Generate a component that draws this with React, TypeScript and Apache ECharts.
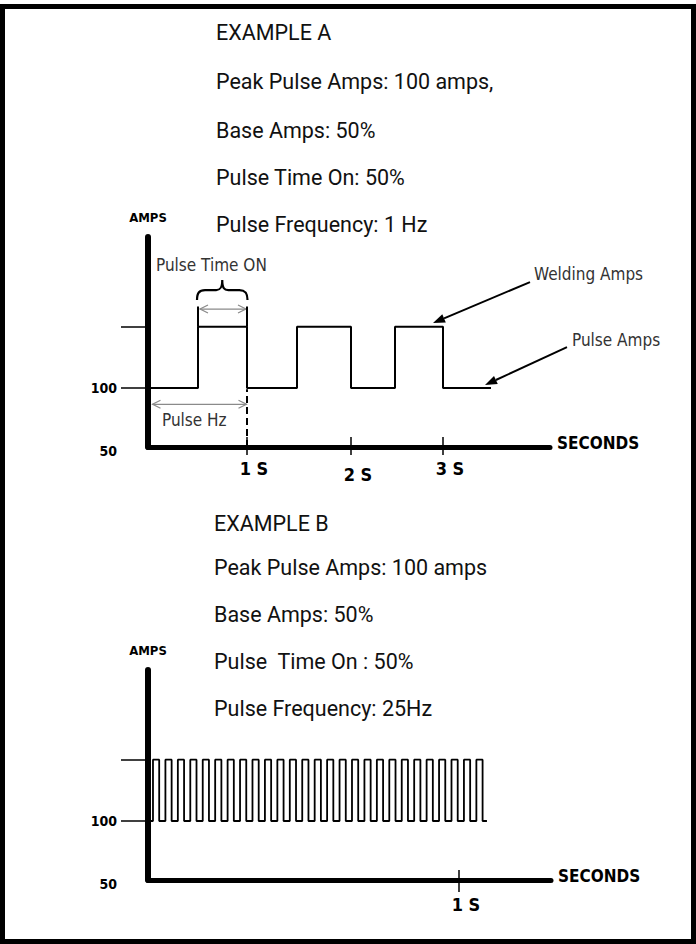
import React, { useEffect, useRef } from "react";
import * as echarts from "echarts";

// ---------------- DATA ----------------
const exampleALines = [
  "EXAMPLE A",
  "Peak Pulse Amps: 100 amps,",
  "Base Amps: 50%",
  "Pulse Time On: 50%",
  "Pulse Frequency: 1 Hz",
];
const exampleBLines = [
  "EXAMPLE B",
  "Peak Pulse Amps: 100 amps",
  "Base Amps: 50%",
  "Pulse  Time On : 50%",
  "Pulse Frequency: 25Hz",
];

const AMPS_MIN = 50;
const AMPS_MAX = 228;
const BASE_AMPS = 100;
const PEAK_AMPS = 152;
const ampTickValues = [100, 152];
const ampLabelValues = [50, 100];

// Example A (seconds)
const SECONDS_MAX_A = 4.02;
const pulseOnA = [0.5, 1.49, 2.47];
const pulseOffA = [0.99, 2.03, 2.95];
const waveEndA = 3.43;
const secondTicksA = [0.99, 2.03, 2.95];
const secondLabelsA = ["1 S", "2 S", "3 S"];

// Example B (seconds) – 25 Hz, 50% on
const SECONDS_MAX_B = 1.296;
const pulseOnB = [
  0.016, 0.056, 0.096, 0.136, 0.176, 0.216, 0.256, 0.296, 0.336, 0.376,
  0.416, 0.456, 0.496, 0.536, 0.576, 0.616, 0.656, 0.696, 0.736, 0.776,
  0.816, 0.856, 0.896, 0.936, 0.976, 1.016, 1.056,
];
const PULSE_WIDTH_B = 0.02;
const waveEndB = 1.09;
const secondTicksB = [1];
const secondLabelsB = ["1 S"];

// Example A annotations (data units: seconds, amps)
const pulseTimeOnArrow = { from: [0.52, 166.9], to: [0.98, 166.9] };
const pulseHzArrow = { from: [0.045, 86.2], to: [0.985, 86.2] };
const pulseTimeOnTicks = [
  { from: [0.5, 152], to: [0.5, 169] },
  { from: [0.99, 152], to: [0.99, 169] },
];
const pulseHzDashed = { from: [0.99, 50], to: [0.99, 99] };
const weldingLeader = { from: [3.82, 189.8], to: [2.85, 155] };
const pulseAmpsLeader = { from: [4.19, 134.7], to: [3.37, 102.5] };
const braceA = { from: 0.49, to: 0.995, low: 174.5, high: 191.5 };
const annotationTexts = [
  { text: "Pulse Time ON", at: [0.08, 204] },
  { text: "Pulse Hz", at: [0.14, 73.3] },
  { text: "Welding Amps", at: [3.86, 196.6] },
  { text: "Pulse Amps", at: [4.24, 140.7] },
];

// ---------------- STYLE / LAYOUT ----------------
const NARROW = "'DejaVu Sans Condensed', sans-serif";
const TITLE_FONT = "Roboto, 'DejaVu Sans Condensed', sans-serif";
const GRAY_TEXT = "#333";
const GRAY_LINE = "#8a8a8a";

echarts.graphic.registerShape(
  "brace",
  echarts.graphic.extendPath(
    "M0,20 C0,13 2,10 8,10 L19,10 C23,10 25,8 25,0 C25,8 27,10 31,10 L42,10 C48,10 50,13 50,20",
    {}
  )
);

function squareWave(ons: number[], offs: number[], end: number) {
  const pts: number[][] = [[0, BASE_AMPS]];
  ons.forEach((t, i) => {
    pts.push([t, BASE_AMPS], [t, PEAK_AMPS], [offs[i], PEAK_AMPS], [offs[i], BASE_AMPS]);
  });
  pts.push([end, BASE_AMPS]);
  return pts;
}

const boldNarrow = (size: number) => ({ fontFamily: NARROW, fontWeight: "bold", fontSize: size, color: "#000" });

function yAxisFor(gridIndex: number) {
  return {
    type: "value",
    gridIndex,
    min: AMPS_MIN,
    max: AMPS_MAX,
    name: "AMPS",
    nameLocation: "end",
    nameGap: 13,
    nameTextStyle: boldNarrow(13),
    axisLine: { show: true, onZero: false, lineStyle: { color: "#000", width: 6 } },
    axisTick: {
      show: true,
      customValues: ampTickValues,
      length: 27,
      lineStyle: { color: "#000", width: 1.5 },
    },
    axisLabel: {
      show: true,
      customValues: ampLabelValues,
      margin: 31,
      ...boldNarrow(14),
      formatter: (v: number) => (v === AMPS_MIN ? `{low|${v}}` : `{n|${v}}`),
      rich: {
        low: { ...boldNarrow(14), padding: [8, 0, 0, 0] },
        n: { ...boldNarrow(14) },
      },
    },
    splitLine: { show: false },
  };
}

function labelFor(ticks: number[], labels: string[]) {
  return (v: number) => {
    const i = ticks.findIndex((t) => Math.abs(t - v) < 1e-6);
    if (i < 0) return "";
    return i === 1 ? `{d|${labels[i]}}` : `{s|${labels[i]}}`;
  };
}

function xAxesFor(
  gridIndex: number,
  max: number,
  ticks: number[],
  labels: string[],
  outLen: number,
  inLen: number,
  labelMargin: number
) {
  return [
    {
      type: "value",
      gridIndex,
      min: 0,
      max,
      position: "bottom",
      name: "SECONDS",
      nameLocation: "end",
      nameGap: 7,
      nameTextStyle: {
        ...boldNarrow(17),
        verticalAlign: "bottom",
        lineHeight: 8,
      },
      axisLine: { show: true, onZero: false, lineStyle: { color: "#000", width: 5 } },
      axisTick: { show: true, customValues: ticks, length: outLen, lineStyle: { color: "#000", width: 1.5 } },
      axisLabel: {
        show: true,
        customValues: ticks,
        margin: labelMargin,
        formatter: labelFor(ticks, labels),
        ...boldNarrow(18),
        rich: {
          s: { ...boldNarrow(18), padding: [0, 0, 0, 14] },
          d: { ...boldNarrow(18), padding: [6, 0, 0, 14] },
        },
      },
      splitLine: { show: false },
    },
    {
      type: "value",
      gridIndex,
      min: 0,
      max,
      position: "bottom",
      axisLine: { show: false, onZero: false },
      axisTick: { show: true, inside: true, customValues: ticks, length: inLen, lineStyle: { color: "#000", width: 1.5 } },
      axisLabel: { show: false },
      splitLine: { show: false },
    },
  ];
}

function buildOption() {
  const offsB = pulseOnB.map((t) => t + PULSE_WIDTH_B);
  return {
    animation: false,
    backgroundColor: "#fff",
    grid: [
      { left: 148, top: 237, width: 402, height: 210 },
      { left: 148, top: 670, width: 403, height: 210 },
    ],
    xAxis: [
      ...xAxesFor(0, SECONDS_MAX_A, secondTicksA, secondLabelsA, 8, 10, 12),
      ...xAxesFor(1, SECONDS_MAX_B, secondTicksB, secondLabelsB, 12, 10, 15),
    ],
    yAxis: [yAxisFor(0), yAxisFor(1)],
    series: [
      {
        type: "line",
        xAxisIndex: 0,
        yAxisIndex: 0,
        data: squareWave(pulseOnA, pulseOffA, waveEndA),
        symbol: "none",
        lineStyle: { color: "#000", width: 2 },
        clip: false,
        z: 3,
      },
      {
        type: "line",
        xAxisIndex: 2,
        yAxisIndex: 1,
        data: squareWave(pulseOnB, offsB, waveEndB),
        symbol: "none",
        lineStyle: { color: "#000", width: 1.8 },
        clip: false,
        z: 3,
      },
    ],
  };
}

type Pt = number[];

function headPts(tip: Pt, from: Pt, len: number, half: number) {
  const dx = tip[0] - from[0];
  const dy = tip[1] - from[1];
  const L = Math.hypot(dx, dy) || 1;
  const ux = dx / L;
  const uy = dy / L;
  const bx = tip[0] - ux * len;
  const by = tip[1] - uy * len;
  return {
    base: [bx, by],
    left: [bx - uy * half, by + ux * half],
    right: [bx + uy * half, by - ux * half],
  };
}

function buildGraphics(chart: any) {
  const P = (p: Pt) => chart.convertToPixel({ gridIndex: 0 }, p) as Pt;
  const els: any[] = [];

  // outer frame
  els.push({
    type: "rect",
    shape: { x: 2.5, y: 6.5, width: 691, height: 935 },
    style: { fill: "none", stroke: "#000", lineWidth: 5 },
    z: 10,
  });

  const titleYA = [32, 81, 130, 177, 224];
  const titleYB = [523, 567, 614, 661, 708];
  exampleALines.forEach((t, i) =>
    els.push({
      type: "text",
      style: { text: t, x: 216, y: titleYA[i], fontFamily: TITLE_FONT, fontSize: 21.5, fill: "#111", verticalAlign: "middle" },
    })
  );
  exampleBLines.forEach((t, i) =>
    els.push({
      type: "text",
      style: { text: t, x: 214, y: titleYB[i], fontFamily: TITLE_FONT, fontSize: 21.5, fill: "#111", verticalAlign: "middle" },
    })
  );

  // dimension arrows (gray, open chevrons both ends)
  [pulseTimeOnArrow, pulseHzArrow].forEach((a) => {
    const p1 = P(a.from);
    const p2 = P(a.to);
    els.push({ type: "line", shape: { x1: p1[0], y1: p1[1], x2: p2[0], y2: p2[1] }, style: { stroke: GRAY_LINE, lineWidth: 1.2 } });
    [
      [p2, p1],
      [p1, p2],
    ].forEach(([tip, from]) => {
      const h = headPts(tip, from, 8, 4);
      els.push({ type: "polyline", shape: { points: [h.left, tip, h.right] }, style: { stroke: GRAY_LINE, lineWidth: 1.2, fill: "none" } });
    });
  });

  // end ticks of Pulse Time ON
  pulseTimeOnTicks.forEach((t) => {
    const p1 = P(t.from);
    const p2 = P(t.to);
    els.push({ type: "line", shape: { x1: p1[0], y1: p1[1], x2: p2[0], y2: p2[1] }, style: { stroke: "#000", lineWidth: 2 } });
  });

  // dashed line for Pulse Hz
  {
    const p1 = P(pulseHzDashed.from);
    const p2 = P(pulseHzDashed.to);
    els.push({ type: "line", shape: { x1: p1[0], y1: p1[1], x2: p2[0], y2: p2[1] }, style: { stroke: "#000", lineWidth: 2, lineDash: [7, 4] } });
  }

  // leader arrows (black, filled head)
  [weldingLeader, pulseAmpsLeader].forEach((a) => {
    const p1 = P(a.from);
    const tip = P(a.to);
    const h = headPts(tip, p1, 12, 4.5);
    els.push({ type: "line", shape: { x1: p1[0], y1: p1[1], x2: h.base[0], y2: h.base[1] }, style: { stroke: "#000", lineWidth: 2 } });
    els.push({ type: "polygon", shape: { points: [tip, h.left, h.right] }, style: { fill: "#000" } });
  });

  // brace
  {
    const l = P([braceA.from, braceA.high]);
    const r = P([braceA.to, braceA.low]);
    els.push({
      type: "brace",
      x: l[0],
      y: l[1],
      scaleX: (r[0] - l[0]) / 50,
      scaleY: (r[1] - l[1]) / 20,
      style: { fill: "none", stroke: "#000", lineWidth: 2.2 },
    });
  }

  // annotation texts
  annotationTexts.forEach((a) => {
    const p = P(a.at);
    els.push({
      type: "text",
      style: { text: a.text, x: p[0], y: p[1], fontFamily: NARROW, fontSize: 17, fill: GRAY_TEXT, verticalAlign: "middle" },
    });
  });

  return els;
}

export default function App() {
  const ref = useRef<HTMLDivElement>(null);
  useEffect(() => {
    document.body.style.margin = "0";
    const chart = echarts.init(ref.current!, undefined, { renderer: "svg" });
    chart.setOption(buildOption() as any);
    chart.setOption({ graphic: { elements: buildGraphics(chart) } } as any);
    return () => chart.dispose();
  }, []);
  return <div ref={ref} style={{ width: 696, height: 944 }} />;
}
